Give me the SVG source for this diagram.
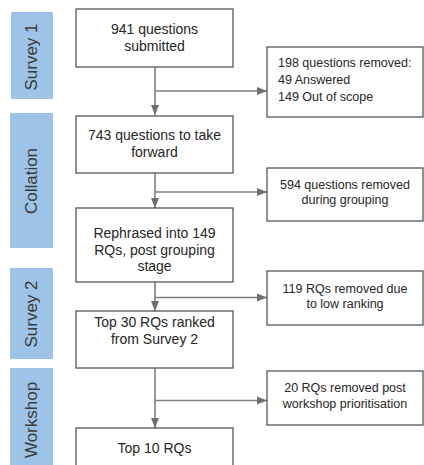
<svg xmlns="http://www.w3.org/2000/svg" width="424" height="465" viewBox="0 0 424 465">
<style>
.band{fill:#9dc3e6}
.bl{font-family:"Liberation Sans",Arial,sans-serif;font-size:17px;fill:#3a3a3a;text-anchor:middle}
.box{fill:#fff;stroke:#3e4b54;stroke-width:1.2}
.t{font-family:"Liberation Sans",Arial,sans-serif;font-size:14px;fill:#262626;text-anchor:middle}
.s{font-family:"Liberation Sans",Arial,sans-serif;font-size:12.5px;fill:#262626}
.c{fill:none;stroke:#7f7f7f;stroke-width:1.6}
</style>
<defs>
<marker id="ah" markerUnits="userSpaceOnUse" markerWidth="10" markerHeight="10" viewBox="0 0 10 10" refX="10" refY="5" orient="auto">
<path d="M0,1 L10,5 L0,9 Z" fill="#6f6f6f"/>
</marker>
</defs>
<rect width="424" height="465" fill="#fff"/>
<g id="stage-survey1"><rect class="band" x="11" y="12" width="42" height="87"/><text class="bl" transform="translate(37,57) rotate(-90)">Survey 1</text></g>
<g id="stage-collation"><rect class="band" x="10" y="113" width="43" height="135"/><text class="bl" transform="translate(37,181) rotate(-90)">Collation</text></g>
<g id="stage-survey2"><rect class="band" x="10" y="268" width="43" height="91"/><text class="bl" transform="translate(37,314) rotate(-90)">Survey 2</text></g>
<g id="stage-workshop"><rect class="band" x="10" y="368" width="43" height="100"/><text class="bl" transform="translate(37,420) rotate(-90)">Workshop</text></g>
<g id="connectors">
<path class="c" d="M155,67 V115" marker-end="url(#ah)"/>
<path class="c" d="M155,91 H267" marker-end="url(#ah)"/>
<path class="c" d="M155,173 V208" marker-end="url(#ah)"/>
<path class="c" d="M155,192 H267" marker-end="url(#ah)"/>
<path class="c" d="M155,282 V311" marker-end="url(#ah)"/>
<path class="c" d="M155,297.5 H267" marker-end="url(#ah)"/>
<path class="c" d="M155,368 V428" marker-end="url(#ah)"/>
<path class="c" d="M155,400.5 H267" marker-end="url(#ah)"/>
</g>
<g id="n1"><rect class="box" x="76" y="9" width="157" height="58"/><text class="t" x="154.5" y="34">941 questions</text><text class="t" x="154.5" y="51">submitted</text></g>
<g id="n2"><rect class="box" x="76" y="116" width="157" height="57"/><text class="t" x="154.5" y="140">743 questions to take</text><text class="t" x="154.5" y="157">forward</text></g>
<g id="n3"><rect class="box" x="76" y="208" width="157" height="74"/><text class="t" x="154.5" y="238">Rephrased into 149</text><text class="t" x="154.5" y="254.5">RQs, post grouping</text><text class="t" x="154.5" y="271">stage</text></g>
<g id="n4"><rect class="box" x="76" y="311" width="157" height="57"/><text class="t" x="154.5" y="327">Top 30 RQs ranked</text><text class="t" x="154.5" y="344">from Survey 2</text></g>
<g id="n5"><rect class="box" x="76" y="428" width="157" height="45"/><text class="t" x="154.5" y="453">Top 10 RQs</text></g>
<g id="r1"><rect class="box" x="267" y="47" width="156" height="70"/><text class="s" x="278" y="67">198 questions removed:</text><text class="s" x="278" y="84">49 Answered</text><text class="s" x="278" y="101">149 Out of scope</text></g>
<g id="r2"><rect class="box" x="267" y="168" width="156" height="53"/><text class="s" x="345" y="189" text-anchor="middle">594 questions removed</text><text class="s" x="345" y="204" text-anchor="middle">during grouping</text></g>
<g id="r3"><rect class="box" x="267" y="271" width="156" height="54"/><text class="s" x="345" y="293" text-anchor="middle">119 RQs removed due</text><text class="s" x="345" y="308" text-anchor="middle">to low ranking</text></g>
<g id="r4"><rect class="box" x="267" y="371" width="156" height="54"/><text class="s" x="345" y="392" text-anchor="middle">20 RQs removed post</text><text class="s" x="345" y="408" text-anchor="middle">workshop prioritisation</text></g>
</svg>
